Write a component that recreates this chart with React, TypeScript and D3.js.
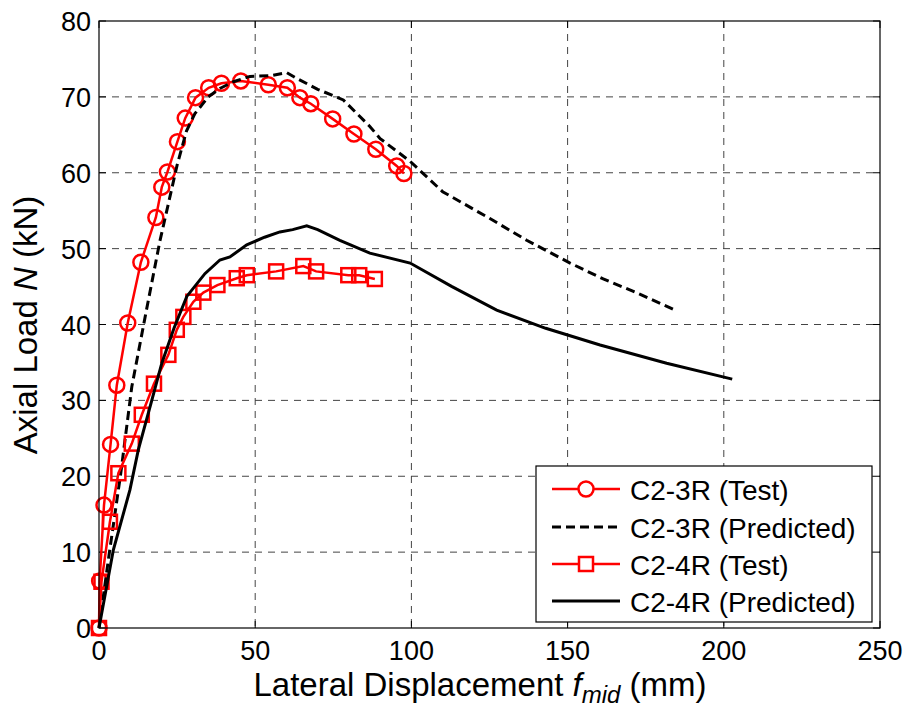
import React from 'react';
import * as d3 from 'd3';

// C2-3R test (circles)
const test3X = [0, 0.2, 1.6, 3.7, 5.7, 9.2, 13.4, 18.2, 20.1, 21.9, 25.1, 27.6, 30.9, 35.1, 39.2, 45.4, 54.2, 60.3, 64.3, 67.8, 74.8, 81.6, 88.6, 95.3, 97.6];
const test3Y = [0, 6.2, 16.2, 24.2, 32, 40.2, 48.2, 54.1, 58.1, 60.1, 64.1, 67.2, 69.9, 71.2, 71.8, 72.1, 71.6, 71.2, 69.9, 69.1, 67.1, 65.1, 63.1, 60.9, 59.9];

// C2-3R predicted (dashed)
const pred3X = [0, 3, 7, 10.5, 15, 19.5, 25, 28, 30.7, 35, 38.7, 43, 48.3, 55, 60.1, 63, 70, 78.2, 86.7, 90, 99.6, 110, 125, 136.9, 150.8, 161.4, 172, 185];
const pred3Y = [0, 9, 20.5, 31.8, 41.5, 51, 61, 65.5, 67.8, 70, 71.1, 72, 72.7, 72.8, 73.2, 72.5, 71, 69.6, 66.1, 64.5, 61.5, 57.5, 54, 51.1, 48.1, 46, 44.2, 41.8];

// C2-4R test (squares)
const test4X = [0, 0.8, 3.5, 6.2, 10.5, 13.7, 17.6, 22.2, 24.9, 27, 30.2, 33.4, 37.9, 44.1, 47.3, 56.7, 65.4, 69.5, 79.8, 83.3, 88.3];
const test4Y = [0, 6.1, 14, 20.4, 24.3, 28.1, 32.2, 36, 39.3, 41, 43, 44.2, 45.2, 46.1, 46.5, 47, 47.7, 47, 46.5, 46.5, 46];

// C2-4R predicted (solid)
const pred4X = [0, 4.6, 9.9, 12.6, 16.9, 20.1, 24, 28.1, 33.9, 38.7, 41.9, 47.3, 53, 57.9, 62, 66.5, 70, 77.1, 86.7, 99.6, 113, 127.3, 143, 160.4, 181.7, 202.7];
const pred4Y = [0, 10.3, 18.2, 23.5, 30, 34.9, 39.5, 43.7, 46.7, 48.5, 48.9, 50.5, 51.5, 52.2, 52.5, 53, 52.5, 51.1, 49.4, 48.1, 45, 41.9, 39.5, 37.3, 34.9, 32.8];

const xTicks = [0, 50, 100, 150, 200, 250];
const yTicks = [0, 10, 20, 30, 40, 50, 60, 70, 80];

const legendLabels = ['C2-3R (Test)', 'C2-3R (Predicted)', 'C2-4R (Test)', 'C2-4R (Predicted)'];

const FONT = '"Liberation Sans", Arial, sans-serif';

export default function App() {
  const width = 909, height = 711;
  const left = 99, right = 880, top = 21, bottom = 628;

  const x = d3.scaleLinear().domain([0, 250]).range([left, right]);
  const y = d3.scaleLinear().domain([0, 80]).range([bottom, top]);

  const zip = (xs: number[], ys: number[]) => xs.map((v, i) => [v, ys[i]] as [number, number]);
  const line = d3.line<[number, number]>().x(d => x(d[0])).y(d => y(d[1]));

  const t3 = zip(test3X, test3Y);
  const p3 = zip(pred3X, pred3Y);
  const t4 = zip(test4X, test4Y);
  const p4 = zip(pred4X, pred4Y);

  const red = '#ff0000';
  const tick = 7;

  // legend layout
  const lg = { x: 536, y: 466, w: 336, h: 156 };
  const rowY = [489, 527, 564, 601];

  return (
    <svg width={width} height={height} style={{ position: 'absolute', left: 0, top: 0, background: '#fff' }}>
      <rect x={0} y={0} width={width} height={height} fill="#fff" />
      {/* grid */}
      {xTicks.filter(t => t > 0 && t < 250).map(t => (
        <line key={'gx' + t} x1={x(t)} x2={x(t)} y1={top} y2={bottom} stroke="#444" strokeWidth={1} strokeDasharray="7,6" />
      ))}
      {yTicks.filter(t => t > 0 && t < 80).map(t => (
        <line key={'gy' + t} x1={left} x2={right} y1={y(t)} y2={y(t)} stroke="#444" strokeWidth={1} strokeDasharray="7,6" />
      ))}
      {/* ticks */}
      {xTicks.map(t => (
        <g key={'tx' + t}>
          <line x1={x(t)} x2={x(t)} y1={bottom} y2={bottom - tick} stroke="#000" />
          <line x1={x(t)} x2={x(t)} y1={top} y2={top + tick} stroke="#000" />
          <text x={x(t)} y={bottom + 31.5} textAnchor="middle" fontFamily={FONT} fontSize={27}>{t}</text>
        </g>
      ))}
      {yTicks.map(t => (
        <g key={'ty' + t}>
          <line x1={left} x2={left + tick} y1={y(t)} y2={y(t)} stroke="#000" />
          <line x1={right} x2={right - tick} y1={y(t)} y2={y(t)} stroke="#000" />
          <text x={left - 8} y={y(t) + 10} textAnchor="end" fontFamily={FONT} fontSize={27}>{t}</text>
        </g>
      ))}
      {/* series */}
      <path d={line(t3) || ''} fill="none" stroke={red} strokeWidth={2.5} />
      {t3.map((d, i) => (
        <circle key={'c' + i} cx={x(d[0])} cy={y(d[1])} r={7.5} fill="none" stroke={red} strokeWidth={2.5} />
      ))}
      <path d={line(p3) || ''} fill="none" stroke="#000" strokeWidth={3} strokeDasharray="9,5" />
      <path d={line(t4) || ''} fill="none" stroke={red} strokeWidth={2.5} />
      {t4.map((d, i) => (
        <rect key={'s' + i} x={x(d[0]) - 7} y={y(d[1]) - 7} width={14} height={14} fill="none" stroke={red} strokeWidth={2.5} />
      ))}
      <path d={line(p4) || ''} fill="none" stroke="#000" strokeWidth={3} />
      {/* frame */}
      <rect x={left} y={top} width={right - left} height={bottom - top} fill="none" stroke="#000" strokeWidth={1.2} />
      {/* legend */}
      <rect x={lg.x} y={lg.y} width={lg.w} height={lg.h} fill="#fff" stroke="#000" strokeWidth={1.2} />
      <line x1={552} x2={620} y1={rowY[0]} y2={rowY[0]} stroke={red} strokeWidth={2.5} />
      <circle cx={586} cy={rowY[0]} r={7.5} fill="#fff" stroke={red} strokeWidth={2.5} />
      <line x1={552} x2={620} y1={rowY[1]} y2={rowY[1]} stroke="#000" strokeWidth={3} strokeDasharray="9,5" />
      <line x1={552} x2={620} y1={rowY[2]} y2={rowY[2]} stroke={red} strokeWidth={2.5} />
      <rect x={579} y={rowY[2] - 7} width={14} height={14} fill="#fff" stroke={red} strokeWidth={2.5} />
      <line x1={552} x2={620} y1={rowY[3]} y2={rowY[3]} stroke="#000" strokeWidth={3} />
      {legendLabels.map((l, i) => (
        <text key={l} x={630} y={rowY[i] + 11} fontFamily={FONT} fontSize={28}>{l}</text>
      ))}
      {/* axis labels */}
      <text x={480} y={696} textAnchor="middle" fontFamily={FONT} fontSize={33}>
        Lateral Displacement <tspan fontStyle="italic">f</tspan>
        <tspan fontStyle="italic" fontSize={24} dy={7}>mid</tspan>
        <tspan dy={-7}> (mm)</tspan>
      </text>
      <text transform={`translate(37, 325) rotate(-90)`} textAnchor="middle" fontFamily={FONT} fontSize={33}>
        Axial Load <tspan fontStyle="italic">N</tspan> (kN)
      </text>
    </svg>
  );
}
